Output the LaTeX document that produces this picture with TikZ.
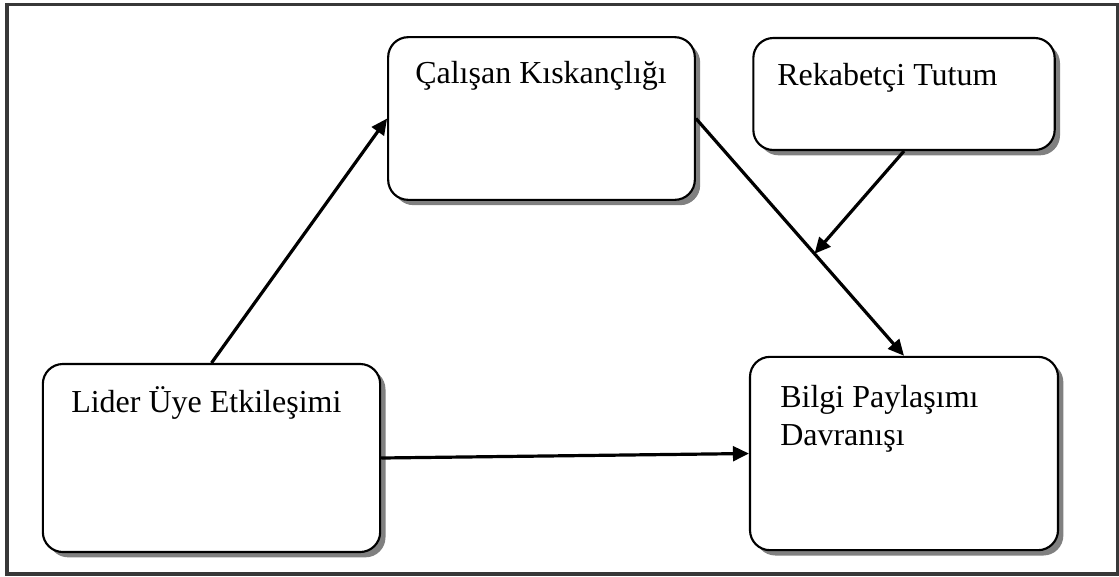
\documentclass[tikz,border=0pt]{standalone}
\usepackage{fontspec}
\setmainfont{Liberation Serif}
\usetikzlibrary{shadows,arrows.meta}
\tikzset{ box_style/.style = { rectangle % framed box
        , draw
        , line width = 1.6pt
        , fill = white
        , rounded corners = 15pt
        , drop shadow = {shadow xshift=4pt, shadow yshift=-4pt, fill=black!50, opacity=1}
        }
        , text_style/.style = { inner sep = 0pt % box label
        , anchor = base west
        , align = left
        , font = \fontsize{24}{28}\selectfont
        }
        }

\begin{document}
\begin{tikzpicture}[x=0.75pt, y=-0.75pt,
        edge_style/.style={draw=black, line width=2.4pt, -{Triangle[length=12pt,width=11pt]}},
        frame_style/.style={draw=black!78, line width=2.4pt}]
        \useasboundingbox (0,0) rectangle (1119,576);
        \draw [frame_style] (7,4.5) rectangle (1117.5,574);

        \node [box_style, minimum width=230pt, minimum height=122pt] (ck) at (541.5,118.5) {};
        \node [box_style, minimum width=226pt, minimum height=84pt] (rt) at (904,94) {};
        \node [box_style, minimum width=253pt, minimum height=141pt] (lue) at (211.5,458) {};
        \node [box_style, minimum width=231pt, minimum height=145pt] (bpd) at (904,453.5) {};

        \node [text_style] (ck_t) at (415,83) {Çalışan Kıskançlığı};
        \node [text_style] (rt_t) at (777,85) {Rekabetçi Tutum};
        \node [text_style] (lue_t) at (71,412) {Lider Üye Etkileşimi};
        \node [text_style] (bpd_t) at (780,445) {Bilgi Paylaşımı\\Davranışı};

        \draw [edge_style] (lue.north) -- (ck.west);
        \draw [edge_style] (ck.east) -- coordinate[pos=0.57] (mod) (bpd.north);
        \draw [edge_style] (rt.south) -- (mod);
        \draw [edge_style] (lue.east) -- (bpd.west);
\end{tikzpicture}
\end{document}
